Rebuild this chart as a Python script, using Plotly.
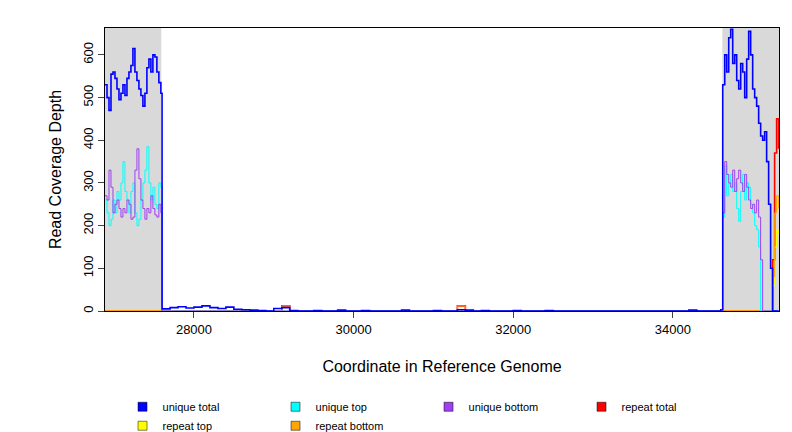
import plotly.graph_objects as go

# left region (26885..27585, step 25)
left_x = [26885 + 25 * i for i in range(29)]
left_total = [530, 500, 470, 555, 560, 545, 520, 495, 510, 530, 505, 545, 560, 575, 615,
              560, 540, 520, 505, 480, 510, 570, 590, 560, 600, 595, 560, 535, 510]
left_utop = [260, 230, 200, 215, 260, 230, 280, 260, 300, 350, 280, 260, 230, 280, 300,
             230, 200, 215, 260, 300, 330, 385, 300, 260, 290, 250, 240, 300, 290]
left_ubot = [270, 260, 330, 290, 230, 250, 260, 240, 220, 240, 230, 260, 250, 215, 220,
             330, 380, 310, 260, 240, 215, 240, 230, 270, 240, 225, 220, 250, 230]

# middle region (27600..34600, step 100)
mid_x = [27600 + 100 * i for i in range(71)]
mid_total = [5, 8, 10, 7, 9, 12, 8, 6, 9, 4, 3, 2, 1, 0, 6, 8, 1, 0, 0, 1,
             0, 0, 2, 0, 0, 1, 0, 0, 0, 0, 2, 0, 0, 0, 1, 0, 0, 3, 2, 0,
             1, 0, 0, 0, 1, 0, 0, 0, 1, 0, 0, 0, 0, 0, 0, 0, 0, 0, 0, 0,
             0, 0, 0, 0, 0, 0, 2, 0, 0, 0, 3]
mid_rep = [0, 0, 0, 0, 0, 0, 0, 0, 0, 0, 0, 0, 0, 0, 0, 12, 0, 0, 0, 0,
           0, 0, 0, 0, 0, 0, 0, 0, 0, 0, 0, 0, 0, 0, 0, 0, 0, 12, 0, 0,
           0, 0, 0, 0, 0, 0, 0, 0, 0, 0, 0, 0, 0, 0, 0, 0, 0, 0, 0, 0,
           0, 0, 0, 0, 0, 0, 0, 0, 0, 0, 0]

# right region (34625..35325, step 25)
right_x = [34625 + 25 * i for i in range(29)]
right_total = [530, 600, 560, 640, 660, 580, 600, 540, 520, 580, 560, 500, 590, 655, 600,
               520, 500, 480, 440, 410, 400, 420, 350, 250, 100, 0, 0, 0, 0]
right_utop = [220, 340, 270, 300, 320, 280, 300, 240, 210, 280, 320, 260, 300, 290, 250,
              230, 200, 190, 150, 0, 0, 0, 0, 0, 0, 0, 0, 0, 0]
right_ubot = [230, 350, 320, 300, 290, 330, 280, 310, 330, 300, 280, 320, 290, 260, 240,
              250, 230, 260, 220, 120, 0, 0, 0, 0, 0, 0, 0, 0, 0]
right_rtot = [0, 0, 0, 0, 0, 0, 0, 0, 0, 0, 0, 0, 0, 0, 0,
              0, 0, 0, 0, 0, 0, 0, 0, 0, 0, 120, 370, 450, 380]
right_rtop = [0, 0, 0, 0, 0, 0, 0, 0, 0, 0, 0, 0, 0, 0, 0,
              0, 0, 0, 0, 0, 0, 0, 0, 0, 0, 60, 150, 190, 180]
right_rbot = [0, 0, 0, 0, 0, 0, 0, 0, 0, 0, 0, 0, 0, 0, 0,
              0, 0, 0, 0, 0, 0, 0, 0, 0, 0, 80, 230, 270, 240]

zeros_l = [0] * len(left_x)
zeros_m = [0] * len(mid_x)

x = left_x + mid_x + right_x
series = [
    ("repeat total", "red", zeros_l + mid_rep + right_rtot),
    ("repeat top", "yellow", zeros_l + zeros_m + right_rtop),
    ("repeat bottom", "orange", zeros_l + mid_rep + right_rbot),
    ("unique top", "cyan", left_utop + zeros_m + right_utop),
    ("unique bottom", "#a040f0", left_ubot + zeros_m + right_ubot),
    ("unique total", "blue", left_total + mid_total + right_total),
]
legend_order = ["unique total", "unique top", "unique bottom",
                "repeat total", "repeat top", "repeat bottom"]

fig = go.Figure()
fig.add_vrect(x0=26885, x1=27590, fillcolor="#d9d9d9", line_width=0, layer="below")
fig.add_vrect(x0=34620, x1=35330, fillcolor="#d9d9d9", line_width=0, layer="below")

for name, color, vals in series:
    w = 1.6 if name in ("unique total", "repeat total") else 1
    fig.add_trace(go.Scatter(x=x, y=vals, mode="lines", line=dict(color=color, width=w, shape="hv"),
                             showlegend=False))

colors = {n: c for n, c, _ in series}
for name in legend_order:
    fig.add_trace(go.Scatter(x=[None], y=[None], mode="markers", name=name,
                             marker=dict(symbol="square", size=9, color=colors[name],
                                         line=dict(color="black", width=0.5))))

fig.update_layout(
    width=792, height=432, template="plotly_white",
    font=dict(family="Liberation Sans, Arial", size=13, color="black"),
    margin=dict(l=97, r=21, t=20, b=129, autoexpand=False),
    plot_bgcolor="white",
    legend=dict(orientation="h", x=0.48, xanchor="center", y=0.055, yref="container",
                yanchor="middle", font=dict(size=11), entrywidth=108),
    xaxis=dict(range=[26885, 35330], tickvals=[28000, 30000, 32000, 34000], tickformat="d",
               showgrid=False, zeroline=False, showline=True, mirror=True,
               linecolor="black", ticks="outside", ticklen=6,
               title=dict(text="Coordinate in Reference Genome", standoff=25)),
    yaxis=dict(range=[0, 663], tickvals=[0, 100, 200, 300, 400, 500, 600], tickangle=-90,
               showgrid=False, zeroline=False, showline=True, mirror=True,
               linecolor="black", ticks="outside", ticklen=6,
               title=dict(text="Read Coverage Depth", standoff=15)),
)

fig.write_html("out.html")
